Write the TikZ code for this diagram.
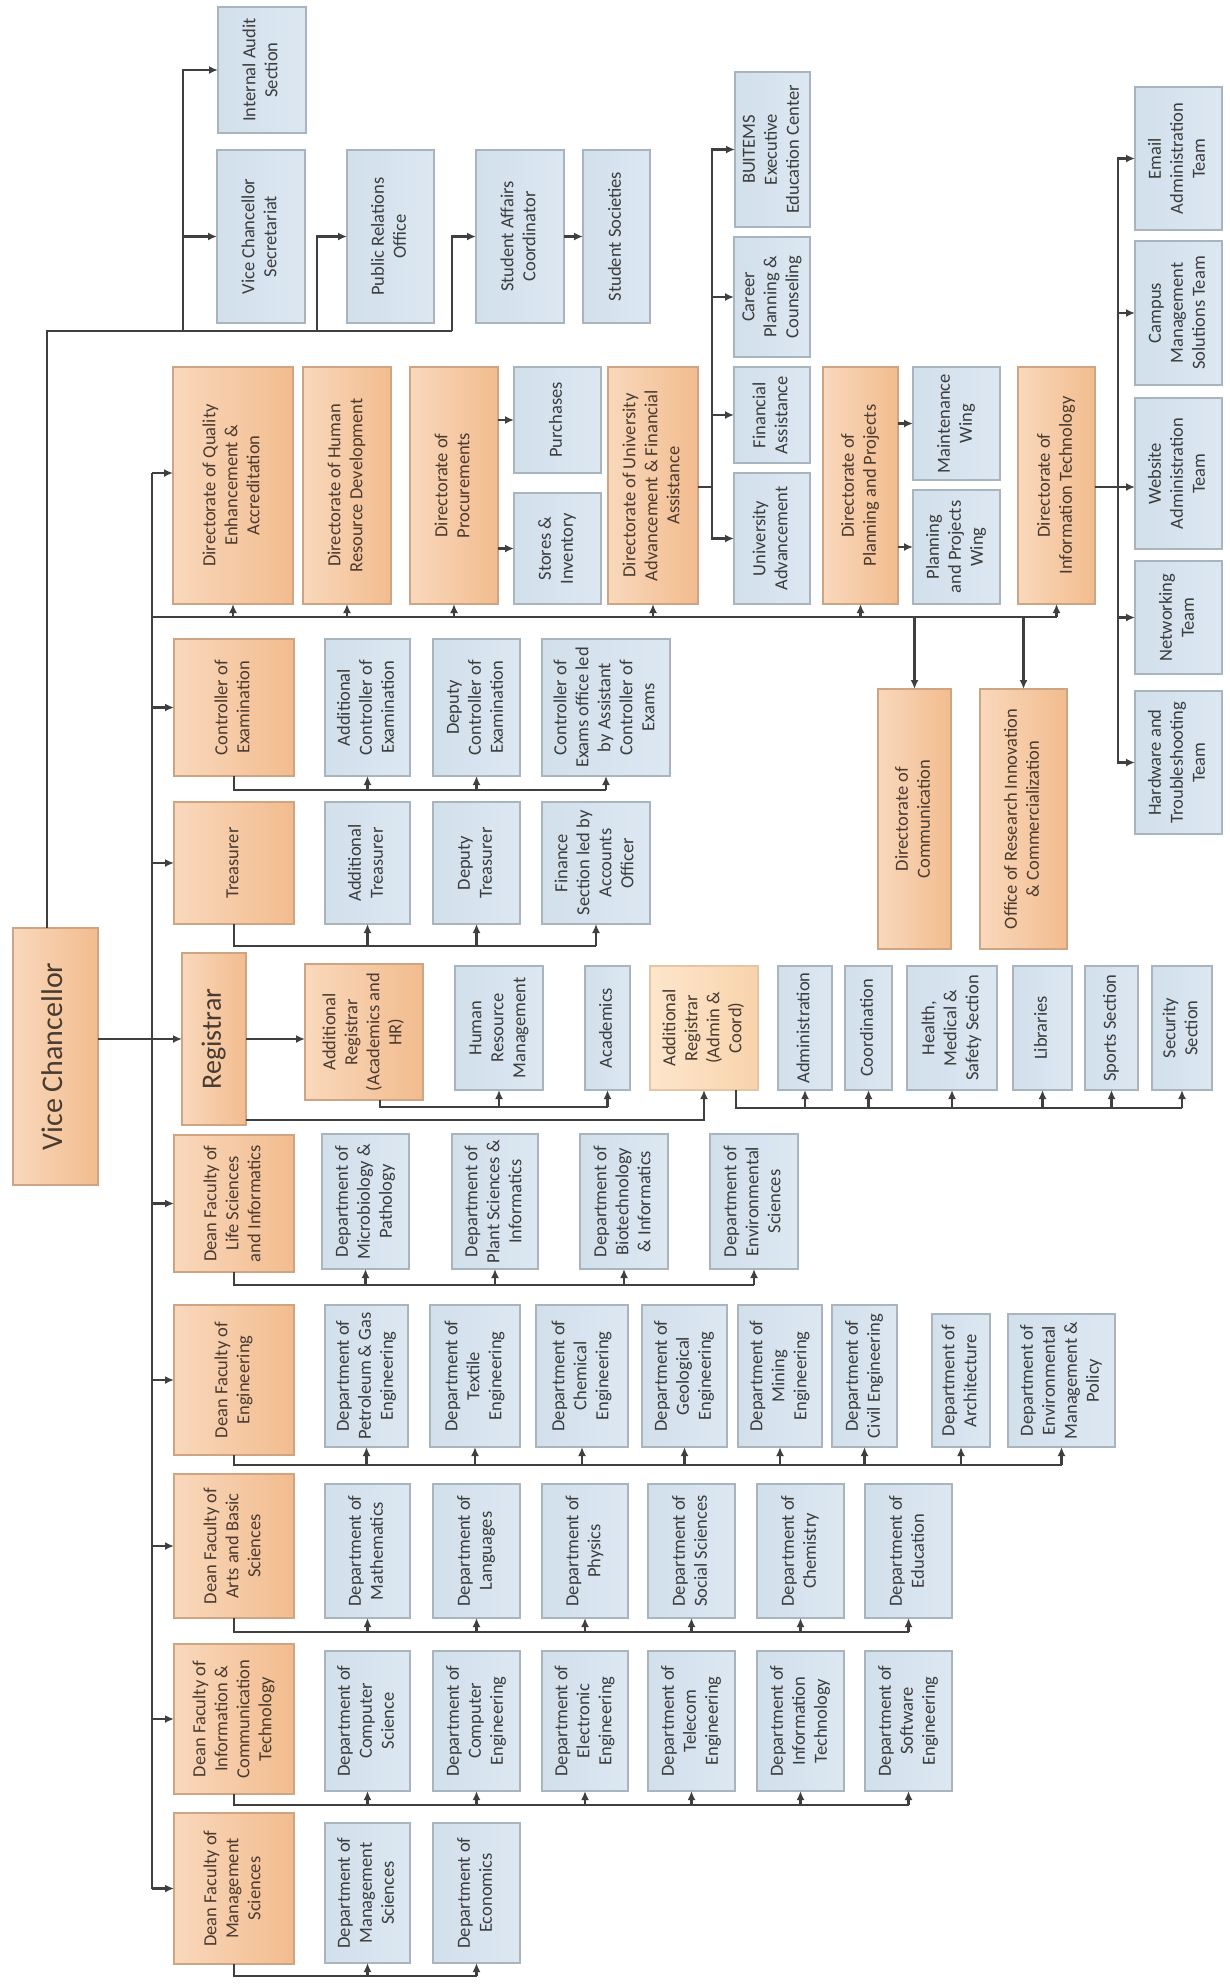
\documentclass[tikz,border=0pt]{standalone}
\usepackage{fontspec}
\setmainfont{Carlito}
\usepackage{graphicx}
\usetikzlibrary{arrows.meta}
\definecolor{cLC}{HTML}{3F3F3F}
\definecolor{cOA}{HTML}{F9D8BC}
\definecolor{cOB}{HTML}{F2BC8E}
\definecolor{cOBD}{HTML}{CFA482}
\definecolor{cOTX}{HTML}{4A3B30}
\definecolor{cLA}{HTML}{FDE6CC}
\definecolor{cLB}{HTML}{F9D3AC}
\definecolor{cLBD}{HTML}{E3C6A4}
\definecolor{cBA}{HTML}{D2E0EC}
\definecolor{cBB}{HTML}{DCE7F1}
\definecolor{cBBD}{HTML}{A8B4BE}
\definecolor{cBTX}{HTML}{3C3C3C}
\newcommand\vt[1]{\rotatebox{90}{\begin{tabular}{@{}c@{}}#1\end{tabular}}}
\newcommand\mkbox[7]{\node[#6, minimum width={(#4-#2)*1pt}, minimum height={(#5-#3)*1pt}] (#1) at ({(#2+#4)/2},{(#3+#5)/2}) {\vt{#7}};}
\tikzset{
 conn/.style={draw=cLC, line width=2.2pt},
 arr/.style={conn, -{Latex[length=9pt,width=8pt]}},
 bluebox/.style={draw=cBBD, line width=2.6pt, left color=cBA, right color=cBB, text=cBTX, inner sep=0pt, outer sep=0pt, font=\fontsize{18.5}{22}\selectfont},
 orgbox/.style={bluebox, draw=cOBD, left color=cOA, right color=cOB, text=cOTX},
 litebox/.style={bluebox, draw=cLBD, left color=cLA, right color=cLB, text=cOTX},
}
\begin{document}
\begin{tikzpicture}[x=1pt,y=-1pt]
\fill[white] (0,0) rectangle (1229,1984);
\useasboundingbox (0,0) rectangle (1229,1984);

% ---------- top group ----------
\mkbox{ias}{218}{7}{306}{133}{bluebox}{Internal Audit\\Section}
\mkbox{vcs}{217}{150}{305}{323}{bluebox}{Vice Chancellor\\Secretariat}
\mkbox{pro}{347}{150}{434}{323}{bluebox}{Public Relations\\Office}
\mkbox{sac}{476}{150}{564}{323}{bluebox}{Student Affairs\\Coordinator}
\mkbox{ss}{583}{150}{650}{323}{bluebox}{Student Societies}
\mkbox{buitems}{735}{72}{810}{227}{bluebox}{BUITEMS\\Executive\\Education Center}
\mkbox{cpc}{734}{237}{810}{357}{bluebox}{Career\\Planning \&\\Counseling}
\mkbox{fa}{734}{367}{810}{463}{bluebox}{Financial\\Assistance}
\mkbox{ua}{734}{473}{810}{604}{bluebox}{University\\Advancement}
\mkbox{email}{1135}{87}{1222}{230}{bluebox}{Email\\Administration\\Team}
\mkbox{cms}{1135}{241}{1222}{385}{bluebox}{Campus\\Management\\Solutions Team}
\mkbox{wat}{1135}{398}{1222}{549}{bluebox}{Website\\Administration\\Team}
\mkbox{net}{1135}{561}{1222}{674}{bluebox}{Networking\\Team}
\mkbox{hw}{1135}{691}{1222}{834}{bluebox}{Hardware and\\Troubleshooting\\Team}

% ---------- directorates ----------
\mkbox{dqea}{173}{367}{293}{604}{orgbox}{Directorate of Quality\\Enhancement \&\\Accreditation}
\mkbox{dhrd}{303}{367}{391}{604}{orgbox}{Directorate of Human\\Resource Development}
\mkbox{dproc}{410}{367}{498}{604}{orgbox}{Directorate of\\Procurements}
\mkbox{pur}{514}{367}{601}{473}{bluebox}{Purchases}
\mkbox{sti}{514}{493}{601}{604}{bluebox}{Stores \&\\Inventory}
\mkbox{duafa}{608}{367}{698}{604}{orgbox}{Directorate of University\\Advancement \& Financial\\Assistance}
\mkbox{dpp}{823}{367}{898}{604}{orgbox}{Directorate of\\Planning and Projects}
\mkbox{mw}{913}{367}{1000}{480}{bluebox}{Maintenance\\Wing}
\mkbox{ppw}{913}{490}{1000}{604}{bluebox}{Planning\\and Projects\\Wing}
\mkbox{dit}{1018}{367}{1095}{604}{orgbox}{Directorate of\\Information Technology}
\mkbox{doc}{878}{689}{951}{949}{orgbox}{Directorate of\\Communication}
\mkbox{oric}{980}{689}{1067}{949}{orgbox}{Office of Research Innovation\\\& Commercialization}

% ---------- controller / treasurer ----------
\mkbox{coe}{174}{639}{294}{776}{orgbox}{Controller of\\Examination}
\mkbox{acoe}{325}{639}{410}{776}{bluebox}{Additional\\Controller of\\Examination}
\mkbox{dcoe}{433}{639}{520}{776}{bluebox}{Deputy\\Controller of\\Examination}
\mkbox{ceo}{542}{639}{670}{776}{bluebox}{Controller of\\Exams office led\\by Assistant\\Controller of\\Exams}
\mkbox{tre}{174}{802}{294}{924}{orgbox}{Treasurer}
\mkbox{atr}{325}{802}{410}{924}{bluebox}{Additional\\Treasurer}
\mkbox{dtr}{433}{802}{520}{924}{bluebox}{Deputy\\Treasurer}
\mkbox{fin}{542}{802}{650}{924}{bluebox}{Finance\\Section led by\\Accounts\\Officer}

% ---------- VC and registrar ----------
\mkbox{vc}{13}{928}{98}{1185}{orgbox,font=\fontsize{30}{36}\selectfont}{Vice Chancellor}
\mkbox{reg}{182}{953}{246}{1125}{orgbox,font=\fontsize{28}{34}\selectfont}{Registrar}
\mkbox{ara}{305}{964}{423}{1100}{orgbox}{Additional\\Registrar\\(Academics and\\HR)}
\mkbox{hrm}{455}{966}{543}{1090}{bluebox}{Human\\Resource\\Management}
\mkbox{aca}{585}{966}{630}{1090}{bluebox}{Academics}
\mkbox{arc}{650}{966}{758}{1090}{litebox}{Additional\\Registrar\\(Admin \&\\Coord)}
\mkbox{adm}{778}{966}{832}{1090}{bluebox}{Administration}
\mkbox{coo}{845}{966}{892}{1090}{bluebox}{Coordination}
\mkbox{hms}{907}{966}{997}{1090}{bluebox}{Health,\\Medical \&\\Safety Section}
\mkbox{lib}{1013}{966}{1072}{1090}{bluebox}{Libraries}
\mkbox{spo}{1085}{966}{1138}{1090}{bluebox}{Sports Section}
\mkbox{sec}{1152}{966}{1212}{1090}{bluebox}{Security\\Section}

% ---------- life sciences ----------
\mkbox{dls}{174}{1135}{294}{1272}{orgbox}{Dean Faculty of\\Life Sciences\\and Informatics}
\mkbox{dmp}{322}{1134}{409}{1269}{bluebox}{Department of\\Microbiology \&\\Pathology}
\mkbox{dpsi}{452}{1134}{538}{1269}{bluebox}{Department of\\Plant Sciences \&\\Informatics}
\mkbox{dbi}{580}{1134}{668}{1269}{bluebox}{Department of\\Biotechnology\\\& Informatics}
\mkbox{des}{710}{1134}{798}{1269}{bluebox}{Department of\\Environmental\\Sciences}

% ---------- engineering ----------
\mkbox{deng}{174}{1305}{294}{1455}{orgbox}{Dean Faculty of\\Engineering}
\mkbox{dpg}{325}{1305}{408}{1447}{bluebox}{Department of\\Petroleum \& Gas\\Engineering}
\mkbox{dte}{430}{1305}{520}{1447}{bluebox}{Department of\\Textile\\Engineering}
\mkbox{dch}{536}{1305}{628}{1447}{bluebox}{Department of\\Chemical\\Engineering}
\mkbox{dge}{642}{1305}{727}{1447}{bluebox}{Department of\\Geological\\Engineering}
\mkbox{dmi}{738}{1305}{822}{1447}{bluebox}{Department of\\Mining\\Engineering}
\mkbox{dci}{832}{1305}{897}{1447}{bluebox}{Department of\\Civil Engineering}
\mkbox{dar}{932}{1314}{990}{1447}{bluebox}{Department of\\Architecture}
\mkbox{demp}{1008}{1314}{1115}{1447}{bluebox}{Department of\\Environmental\\Management \&\\Policy}

% ---------- arts ----------
\mkbox{dart}{174}{1474}{294}{1618}{orgbox}{Dean Faculty of\\Arts and Basic\\Sciences}
\mkbox{dma}{325}{1484}{410}{1618}{bluebox}{Department of\\Mathematics}
\mkbox{dla}{433}{1484}{520}{1618}{bluebox}{Department of\\Languages}
\mkbox{dph}{542}{1484}{628}{1618}{bluebox}{Department of\\Physics}
\mkbox{dss}{648}{1484}{735}{1618}{bluebox}{Department of\\Social Sciences}
\mkbox{dchem}{757}{1484}{844}{1618}{bluebox}{Department of\\Chemistry}
\mkbox{ded}{865}{1484}{952}{1618}{bluebox}{Department of\\Education}

% ---------- ICT ----------
\mkbox{dict}{174}{1644}{294}{1794}{orgbox}{Dean Faculty of\\Information \&\\Communication\\Technology}
\mkbox{dcs}{325}{1651}{410}{1791}{bluebox}{Department of\\Computer\\Science}
\mkbox{dce}{433}{1651}{520}{1791}{bluebox}{Department of\\Computer\\Engineering}
\mkbox{del}{542}{1651}{628}{1791}{bluebox}{Department of\\Electronic\\Engineering}
\mkbox{dtel}{648}{1651}{735}{1791}{bluebox}{Department of\\Telecom\\Engineering}
\mkbox{dinf}{757}{1651}{844}{1791}{bluebox}{Department of\\Information\\Technology}
\mkbox{dsw}{865}{1651}{952}{1791}{bluebox}{Department of\\Software\\Engineering}

% ---------- management ----------
\mkbox{dmgt}{174}{1813}{294}{1964}{orgbox}{Dean Faculty of\\Management\\Sciences}
\mkbox{dms}{325}{1823}{410}{1963}{bluebox}{Department of\\Management\\Sciences}
\mkbox{deco}{433}{1823}{520}{1963}{bluebox}{Department of\\Economics}

% ================= connectors =================
% VC top line
\coordinate (tp) at (47,331);
\coordinate (b1) at (183,331);
\coordinate (b2) at (317,331);
\coordinate (b3) at (452,331);
\draw[conn] (tp |- vc.north) -- (tp) -- (b3);
\draw[arr] (b1) |- (ias.west);
\draw[arr] (b1 |- vcs.west) -- (vcs.west);
\draw[arr] (b2) |- (pro.west);
\draw[arr] (b3) |- (sac.west);
\draw[arr] (sac.east) -- (ss.west);

% VC to registrar and trunk
\draw[arr] (vc.east |- reg.west) -- (reg.west);
\coordinate (tk) at (152,473);
\draw[conn] (tk) -- (tk |- dmgt.west);
\draw[arr] (tk) -- (tk -| dqea.west);
\draw[arr] (tk |- coe.west) -- (coe.west);
\draw[arr] (tk |- tre.west) -- (tre.west);
\draw[arr] (tk |- dls.west) -- (dls.west);
\draw[arr] (tk |- deng.west) -- (deng.west);
\draw[arr] (tk |- dart.west) -- (dart.west);
\draw[arr] (tk |- dict.west) -- (dict.west);
\draw[arr] (tk |- dmgt.west) -- (dmgt.west);

% directorate bus
\coordinate (bs) at (152,617);
\draw[conn] (bs) -- (bs -| dit.south);
\draw[arr] (bs -| dqea.south) -- (dqea.south);
\draw[arr] (bs -| dhrd.south) -- (dhrd.south);
\draw[arr] (bs -| dproc.south) -- (dproc.south);
\draw[arr] (bs -| duafa.south) -- (duafa.south);
\draw[arr] (bs -| dpp.south) -- (dpp.south);
\draw[arr] (bs -| dit.south) -- (dit.south);
\draw[arr] (bs -| doc.north) -- (doc.north);
\draw[arr] (bs -| oric.north) -- (oric.north);

% procurement
\draw[arr] (dproc.east |- pur.west) -- (pur.west);
\draw[arr] (dproc.east |- sti.west) -- (sti.west);
% university advancement
\coordinate (ub) at (712,487);
\draw[conn] (duafa.east |- ub) -- (ub);
\draw[arr] (ub) |- (buitems.west);
\draw[arr] (ub) |- (ua.west);
\draw[arr] (ub |- cpc.west) -- (cpc.west);
\draw[arr] (ub |- fa.west) -- (fa.west);
% planning
\draw[arr] (dpp.east |- mw.west) -- (mw.west);
\draw[arr] (dpp.east |- ppw.west) -- (ppw.west);
% IT
\coordinate (ib) at (1118,487);
\draw[arr] (dit.east |- ib) -- (ib -| wat.west);
\draw[arr] (ib) |- (email.west);
\draw[arr] (ib) |- (hw.west);
\draw[arr] (ib |- cms.west) -- (cms.west);
\draw[arr] (ib |- net.west) -- (net.west);

% controller
\coordinate (cbus) at (0,790);
\draw[conn] (coe.south) |- (ceo.south |- cbus);
\draw[arr] (acoe.south |- cbus) -- (acoe.south);
\draw[arr] (dcoe.south |- cbus) -- (dcoe.south);
\draw[arr] (ceo.south |- cbus) -- (ceo.south);
% treasurer
\coordinate (tbus) at (0,946);
\draw[conn] (tre.south) |- (fin.south |- tbus);
\draw[arr] (atr.south |- tbus) -- (atr.south);
\draw[arr] (dtr.south |- tbus) -- (dtr.south);
\draw[arr] (fin.south |- tbus) -- (fin.south);

% registrar
\draw[arr] (reg.east) -- (reg.east -| ara.west);
\coordinate (rbus) at (0,1107);
\draw[conn] ([xshift=16pt]ara.south) |- (aca.south |- rbus);
\draw[arr] (hrm.south |- rbus) -- (hrm.south);
\draw[arr] (aca.south |- rbus) -- (aca.south);
\draw[arr] ([yshift=5pt]reg.south east) -| (arc.south);
\coordinate (abus) at (0,1108);
\draw[conn] ([xshift=32pt]arc.south) |- (sec.south |- abus);
\draw[arr] (adm.south |- abus) -- (adm.south);
\draw[arr] (coo.south |- abus) -- (coo.south);
\draw[arr] (hms.south |- abus) -- (hms.south);
\draw[arr] (lib.south |- abus) -- (lib.south);
\draw[arr] (spo.south |- abus) -- (spo.south);
\draw[arr] (sec.south |- abus) -- (sec.south);

% life sciences
\coordinate (lbus) at (0,1285);
\draw[conn] (dls.south) |- (des.south |- lbus);
\draw[arr] (dmp.south |- lbus) -- (dmp.south);
\draw[arr] (dpsi.south |- lbus) -- (dpsi.south);
\draw[arr] (dbi.south |- lbus) -- (dbi.south);
\draw[arr] (des.south |- lbus) -- (des.south);

% engineering
\coordinate (ebus) at (0,1465);
\draw[conn] (deng.south) |- (demp.south |- ebus);
\draw[arr] (dpg.south |- ebus) -- (dpg.south);
\draw[arr] (dte.south |- ebus) -- (dte.south);
\draw[arr] (dch.south |- ebus) -- (dch.south);
\draw[arr] (dge.south |- ebus) -- (dge.south);
\draw[arr] (dmi.south |- ebus) -- (dmi.south);
\draw[arr] (dci.south |- ebus) -- (dci.south);
\draw[arr] (dar.south |- ebus) -- (dar.south);
\draw[arr] (demp.south |- ebus) -- (demp.south);

% arts
\coordinate (sbus) at (0,1632);
\draw[conn] (dart.south) |- (ded.south |- sbus);
\draw[arr] (dma.south |- sbus) -- (dma.south);
\draw[arr] (dla.south |- sbus) -- (dla.south);
\draw[arr] (dph.south |- sbus) -- (dph.south);
\draw[arr] (dss.south |- sbus) -- (dss.south);
\draw[arr] (dchem.south |- sbus) -- (dchem.south);
\draw[arr] (ded.south |- sbus) -- (ded.south);

% ICT
\coordinate (ibus) at (0,1805);
\draw[conn] (dict.south) |- (dsw.south |- ibus);
\draw[arr] (dcs.south |- ibus) -- (dcs.south);
\draw[arr] (dce.south |- ibus) -- (dce.south);
\draw[arr] (del.south |- ibus) -- (del.south);
\draw[arr] (dtel.south |- ibus) -- (dtel.south);
\draw[arr] (dinf.south |- ibus) -- (dinf.south);
\draw[arr] (dsw.south |- ibus) -- (dsw.south);

% management
\coordinate (mbus) at (0,1976);
\draw[conn] (dmgt.south) |- (deco.south |- mbus);
\draw[arr] (dms.south |- mbus) -- (dms.south);
\draw[arr] (deco.south |- mbus) -- (deco.south);
\end{tikzpicture}
\end{document}
